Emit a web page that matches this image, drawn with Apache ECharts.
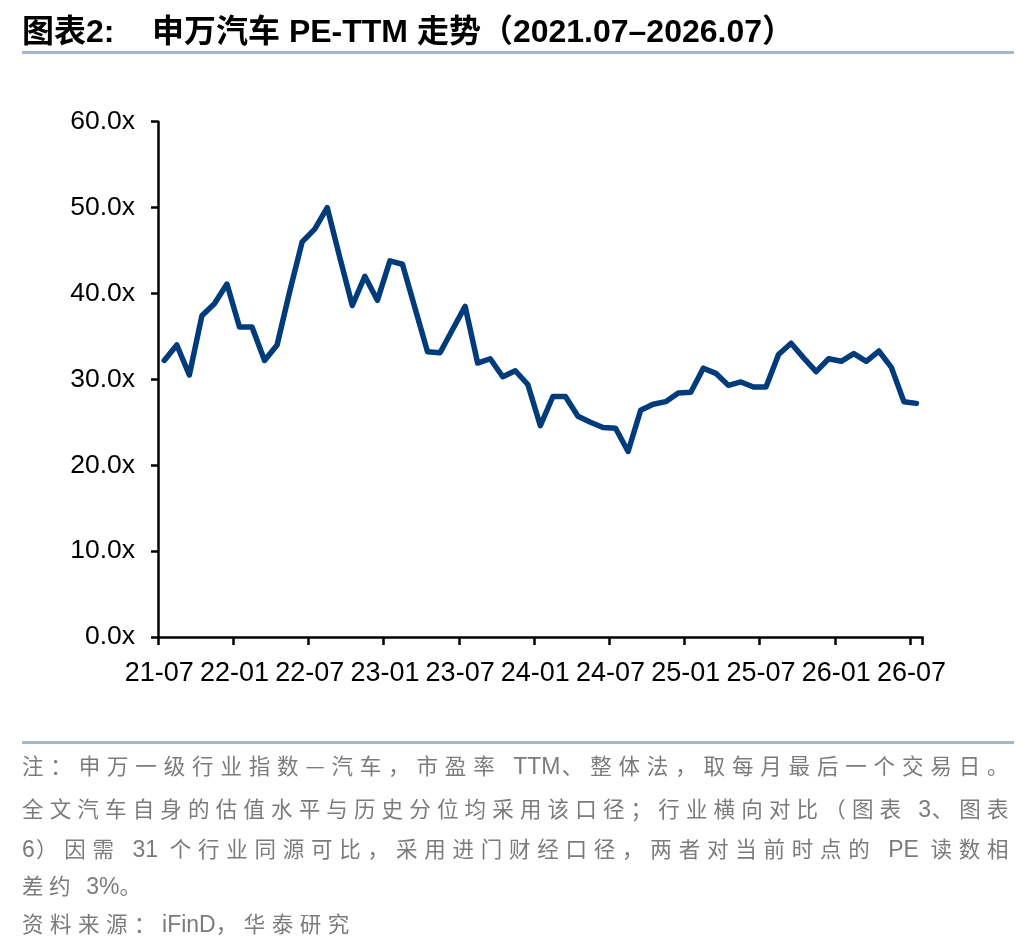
<!DOCTYPE html>
<html>
<head>
<meta charset="utf-8">
<script src="https://cdn.jsdelivr.net/npm/echarts@6/dist/echarts.min.js"></script>
<style>
html,body{margin:0;padding:0;background:#fff;}
#chart{position:absolute;left:0;top:0;width:1036px;height:952px;}
.note{position:absolute;left:22px;width:992px;font-family:"Noto Sans CJK SC","Liberation Sans",sans-serif;font-size:21.5px;color:#7b7b7b;letter-spacing:5.5px;line-height:26px;}
.note .l{letter-spacing:0;font-family:"Liberation Sans Narrow","Liberation Sans",sans-serif;font-size:23px;}
.j{text-align:justify;text-align-last:justify;}
</style>
</head>
<body>
<div id="chart"></div>
<div class="note j" style="top:752px">注：申万一级行业指数—汽车，市盈率 <span class="l">TTM</span>、整体法，取每月最后一个交易日。</div>
<div class="note j" style="top:795px">全文汽车自身的估值水平与历史分位均采用该口径；行业横向对比（图表 <span class="l">3</span>、图表</div>
<div class="note j" style="top:835px"><span class="l">6</span>）因需 <span class="l">31</span> 个行业同源可比，采用进门财经口径，两者对当前时点的 <span class="l">PE</span> 读数相</div>
<div class="note" style="top:872px">差约 <span class="l">3%</span>。</div>
<div class="note" style="top:910px;letter-spacing:6.5px">资料来源：<span class="l">iFinD</span>，华泰研究</div>
<script>
const months = [
  '21-07','21-08','21-09','21-10','21-11','21-12',
  '22-01','22-02','22-03','22-04','22-05','22-06',
  '22-07','22-08','22-09','22-10','22-11','22-12',
  '23-01','23-02','23-03','23-04','23-05','23-06',
  '23-07','23-08','23-09','23-10','23-11','23-12',
  '24-01','24-02','24-03','24-04','24-05','24-06',
  '24-07','24-08','24-09','24-10','24-11','24-12',
  '25-01','25-02','25-03','25-04','25-05','25-06',
  '25-07','25-08','25-09','25-10','25-11','25-12',
  '26-01','26-02','26-03','26-04','26-05','26-06',
  '26-07'
];
const peTTM = [
  32.2, 34.0, 30.5, 37.4, 38.8, 41.1,
  36.1, 36.1, 32.2, 34.0, 40.2, 46.0,
  47.5, 50.0, 44.2, 38.6, 42.0, 39.2,
  43.8, 43.4, 38.3, 33.2, 33.1, 35.8,
  38.5, 31.9, 32.4, 30.3, 31.0, 29.4,
  24.6, 28.0, 28.0, 25.7, 25.0, 24.4,
  24.3, 21.6, 26.4, 27.1, 27.4, 28.4,
  28.5, 31.3, 30.7, 29.3, 29.7, 29.1,
  29.1, 32.9, 34.2, 32.5, 30.9, 32.4,
  32.1, 33.0, 32.1, 33.3, 31.4, 27.4,
  27.2
];
const xTickLabels = ['21-07','22-01','22-07','23-01','23-07','24-01','24-07','25-01','25-07','26-01','26-07'];
const yMin = 0, yMax = 60, yStep = 10;

const chart = echarts.init(document.getElementById('chart'), null, {renderer: 'canvas'});
const showAt = (i) => xTickLabels.indexOf(months[i]) >= 0;

chart.setOption({
  animation: false,
  backgroundColor: '#fff',
  graphic: [
    { type: 'text', x: 22, y: 33, style: { text: '图表2:', fontSize: 32, fontWeight: 'bold', fontFamily: '"Liberation Sans","Noto Sans CJK SC"', fill: '#000', verticalAlign: 'middle' } },
    { type: 'text', x: 152, y: 33, style: { text: '申万汽车 PE-TTM 走势（2021.07–2026.07）', fontSize: 32, fontWeight: 'bold', fontFamily: '"Liberation Sans","Noto Sans CJK SC"', fill: '#000', verticalAlign: 'middle' } },
    { type: 'rect', shape: { x: 22, y: 51, width: 992, height: 3 }, style: { fill: '#A3B7CD' } },
    { type: 'rect', shape: { x: 22, y: 741, width: 992, height: 3 }, style: { fill: '#A3B7CD' } }
  ],
  grid: { left: 158, top: 121.7, width: 764.7, height: 515.3, containLabel: false },
  xAxis: {
    type: 'category',
    data: months,
    boundaryGap: true,
    axisLine: { show: true, lineStyle: { color: '#000', width: 2.5 } },
    axisTick: { show: true, interval: showAt, length: 8, lineStyle: { color: '#000', width: 2.5 } },
    axisLabel: { interval: showAt, fontSize: 27, color: '#000', margin: 23, fontFamily: '"Liberation Sans", Arial, sans-serif', padding: [0, 10, 0, 0] },
    splitLine: { show: false }
  },
  yAxis: {
    type: 'value',
    min: yMin, max: yMax, interval: yStep,
    axisLine: { show: true, lineStyle: { color: '#000', width: 2.5 } },
    axisTick: { show: true, length: 7, lineStyle: { color: '#000', width: 2.5 } },
    axisLabel: { fontSize: 26.5, color: '#000', margin: 23, fontFamily: '"Liberation Sans", Arial, sans-serif', formatter: (v) => v.toFixed(1) + 'x' },
    splitLine: { show: false }
  },
  series: [{
    type: 'line',
    data: peTTM,
    symbol: 'none',
    showSymbol: false,
    lineStyle: { color: '#003B7B', width: 5.5, join: 'round', cap: 'round' }
  }]
});
</script>
</body>
</html>
